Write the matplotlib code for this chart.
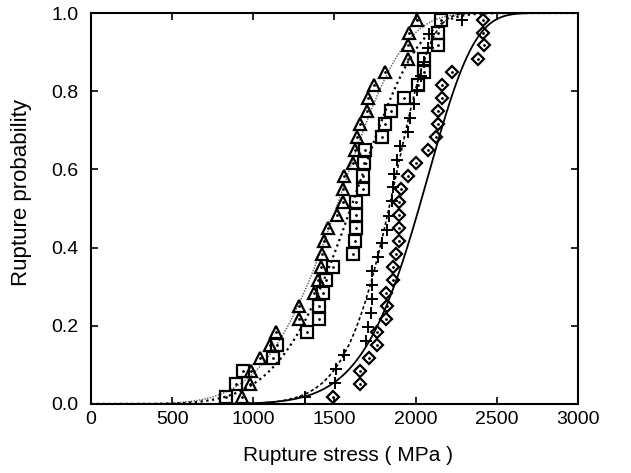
import numpy as np
import matplotlib.pyplot as plt

plt.rcParams['font.family'] = ['Liberation Sans', 'DejaVu Sans']

# rupture stress (MPa) and rupture probability
tri_stress = [928, 980, 986, 1041, 1103, 1138, 1281, 1281, 1374, 1400,
              1417, 1425, 1437, 1462, 1513, 1550, 1554, 1558, 1616, 1626,
              1637, 1657, 1698, 1708, 1743, 1811, 1955, 1955, 1959, 2010]
tri_prob = [0.017, 0.050, 0.083, 0.117, 0.150, 0.183, 0.217, 0.250, 0.283, 0.317,
            0.350, 0.383, 0.417, 0.450, 0.483, 0.517, 0.550, 0.583, 0.617, 0.650,
            0.683, 0.717, 0.750, 0.783, 0.817, 0.850, 0.883, 0.917, 0.950, 0.983]

sq_stress = [830, 893, 934, 1123, 1148, 1329, 1406, 1406, 1431, 1448,
             1489, 1612, 1626, 1630, 1632, 1632, 1674, 1674, 1682, 1690,
             1791, 1811, 1848, 1930, 2016, 2053, 2053, 2136, 2136, 2156]
sq_prob = tri_prob

plus_stress = [1318, 1503, 1507, 1556, 1694, 1708, 1723, 1729, 1733, 1733,
               1770, 1791, 1825, 1838, 1857, 1862, 1866, 1883, 1904, 1951,
               1965, 1990, 2010, 2035, 2050, 2076, 2080, 2288]
plus_prob = [0.018, 0.054, 0.089, 0.125, 0.161, 0.196, 0.232, 0.268, 0.304, 0.339,
             0.375, 0.411, 0.446, 0.482, 0.518, 0.554, 0.589, 0.625, 0.661, 0.696,
             0.732, 0.768, 0.804, 0.839, 0.875, 0.911, 0.946, 0.982]

dia_stress = [1493, 1657, 1657, 1715, 1760, 1760, 1817, 1821, 1817, 1858,
              1858, 1877, 1897, 1897, 1897, 1897, 1913, 1955, 2000, 2078,
              2125, 2136, 2140, 2160, 2160, 2222, 2382, 2421, 2416, 2416]
dia_prob = tri_prob

# Weibull fits (scale s0, modulus m)
fits = {'tri': (1620, 5.2), 'sq': (1710, 5.5), 'plus': (1904, 10.0), 'dia': (2110, 8.4)}

s = np.linspace(0, 3000, 600)
def weibull(s0, m):
    return 1 - np.exp(-(s / s0) ** m)

fig, ax = plt.subplots(figsize=(6.31, 4.73), dpi=100)
fig.subplots_adjust(left=0.144, right=0.916, top=0.9725, bottom=0.146)

ax.plot(s, weibull(*fits['tri']), color='0.35', lw=1.0, ls=(0, (1, 1)))
ax.plot(s, weibull(*fits['sq']), color='k', lw=1.6, ls=(0, (1, 1.6)))
ax.plot(s, weibull(*fits['plus']), color='k', lw=1.2, ls=(0, (2, 1.5)))
ax.plot(s, weibull(*fits['dia']), color='k', lw=1.3)

ax.plot(tri_stress, tri_prob, '^', ms=8, mfc='none', mec='k', mew=1.6)
ax.plot(tri_stress, tri_prob, '.', ms=2, color='k')
ax.plot(sq_stress, sq_prob, 's', ms=8, mfc='none', mec='k', mew=1.6)
ax.plot(sq_stress, sq_prob, '.', ms=2, color='k')
ax.plot(plus_stress, plus_prob, '+', ms=9, mec='k', mew=1.4)
ax.plot(dia_stress, dia_prob, 'D', ms=6.5, mfc='none', mec='k', mew=1.6)
ax.plot(dia_stress, dia_prob, '.', ms=2, color='k')

ax.set_xlim(0, 3000)
ax.set_ylim(0, 1.0)
ax.set_xticks(range(0, 3001, 500))
ax.set_yticks(np.arange(0, 1.01, 0.2))
ax.set_yticklabels(['0.0', '0.2', '0.4', '0.6', '0.8', '1.0'])
ax.tick_params(direction='in', top=True, right=True, length=5, width=1.2,
               labelsize=14)
ax.tick_params(axis='x', pad=5)
ax.tick_params(axis='y', pad=9)
for sp in ax.spines.values():
    sp.set_linewidth(1.5)
ax.set_xlabel('Rupture stress ( MPa )', fontsize=15)
ax.set_ylabel('Rupture probability', fontsize=16)
ax.xaxis.set_label_coords(0.528, -0.107)
ax.yaxis.set_label_coords(-0.12, 0.542)

fig.savefig('out.png')
